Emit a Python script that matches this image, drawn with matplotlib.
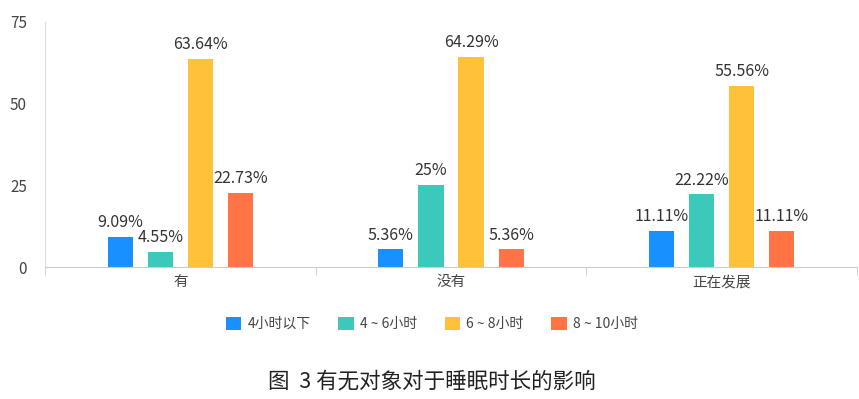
import matplotlib.pyplot as plt
import numpy as np

plt.rcParams['font.family'] = ['Noto Sans CJK SC', 'DejaVu Sans']

categories = ['有', '没有', '正在发展']
series_names = ['4小时以下', '4 ~ 6小时', '6 ~ 8小时', '8 ~ 10小时']
values = [
    [9.09, 5.36, 11.11],
    [4.55, 25, 22.22],
    [63.64, 64.29, 55.56],
    [22.73, 5.36, 11.11],
]
labels = [
    ['9.09%', '5.36%', '11.11%'],
    ['4.55%', '25%', '22.22%'],
    ['63.64%', '64.29%', '55.56%'],
    ['22.73%', '5.36%', '11.11%'],
]
colors = ['#1890FF', '#3CC8BA', '#FFC03A', '#FF7345']

fig = plt.figure(figsize=(8.59, 3.99), dpi=100)
ax = fig.add_axes([45 / 859, (399 - 267) / 399, (857 - 45) / 859, 245 / 399])

x = np.arange(len(categories))
bar_w = 0.093
step = 0.148
for i, (vals, labs, c) in enumerate(zip(values, labels, colors)):
    pos = x + (i - 1.5) * step
    ax.bar(pos, vals, width=bar_w, color=c, label=series_names[i])
    for p, v, t in zip(pos, vals, labs):
        ax.text(p, v + 1.8, t, ha='center', va='bottom', fontsize=11.5,
                color='#333333', fontweight='medium')

ax.set_xlim(-0.5, 2.5)
ax.set_ylim(0, 75)
ax.set_yticks([0, 25, 50, 75])
ax.set_xticks(x)
ax.set_xticklabels(categories, fontsize=10.5, color='#444444')
ax.tick_params(axis='x', length=0, pad=6)
ax.tick_params(axis='y', length=0, labelsize=11, labelcolor='#444444', pad=13)
ax.set_xticks([-0.5, 0.5, 1.5, 2.5], minor=True)
ax.tick_params(axis='x', which='minor', length=6, color='#cccccc')

for s in ['top', 'right']:
    ax.spines[s].set_visible(False)
ax.spines['left'].set_color('#dddddd')
ax.spines['bottom'].set_color('#cccccc')

ax.legend(loc='center', bbox_to_anchor=(432 / 859, 1 - 324 / 399),
          bbox_transform=fig.transFigure, ncol=4, frameon=False,
          fontsize=10, handlelength=1.1, handleheight=1.1,
          columnspacing=2.0, handletextpad=0.45, labelcolor='#444444')

fig.text(432 / 859, 1 - 382 / 399, '图  3 有无对象对于睡眠时长的影响', ha='center',
         va='center', fontsize=15.5, color='#222222')

fig.savefig('out.png', dpi=100)
